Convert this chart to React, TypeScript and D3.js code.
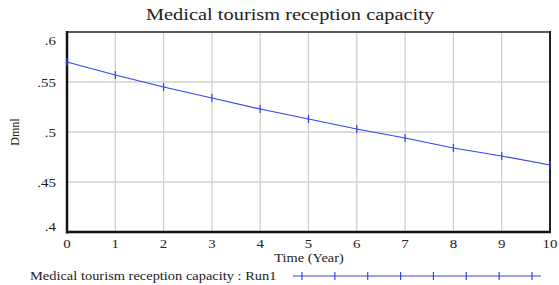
import React from "react";
import * as d3 from "d3";

const years = [0, 1, 2, 3, 4, 5, 6, 7, 8, 9, 10];
const capacity = [0.57, 0.557, 0.545, 0.534, 0.523, 0.513, 0.503, 0.494, 0.484, 0.476, 0.467];
const yTicks = [0.4, 0.45, 0.5, 0.55, 0.6];
const yTickLabels = [".4", ".45", ".5", ".55", ".6"];
const legendMarks = [0, 1, 2, 3, 4, 5, 6, 7];

const W = 559;
const H = 285;
const font = "'Liberation Serif', 'Times New Roman', serif";
const blue = "#3344ee";

// the reference text looks a bit stretched sideways, so each label gets a horizontal scale
const Label = ({ x, y, sx = 1.18, size, anchor = "start", dy, children }: any) => (
	<g transform={`translate(${x},${y}) scale(${sx},1)`}>
		<text textAnchor={anchor} fontSize={size} dy={dy} fill="#222">
			{children}
		</text>
	</g>
);

const App = () => {
	const x = d3.scaleLinear().domain([0, 10]).range([67, 550]);
	const y = d3.scaleLinear().domain([0.4, 0.6]).range([232, 32]);

	const line = d3
		.line<number>()
		.x((_, i) => x(years[i]))
		.y((d) => y(d));

	const legendX = d3.scaleLinear().domain([0, 7]).range([302, 532]);

	return (
		<svg
			width={W}
			height={H}
			style={{ position: "absolute", left: 0, top: 0, background: "#fff" }}
			fontFamily={font}>
			{/* title */}
			<Label x={290} y={20} sx={1.2} size={17} anchor="middle">
				Medical tourism reception capacity
			</Label>

			{/* grid */}
			{years.map((t) => (
				<line key={"gx" + t} x1={x(t)} x2={x(t)} y1={y(0.6)} y2={y(0.4)} stroke="#cfcfcf" strokeWidth={1.3} />
			))}
			{yTicks.map((v) => (
				<line key={"gy" + v} x1={x(0)} x2={x(10)} y1={y(v)} y2={y(v)} stroke="#cfcfcf" strokeWidth={1.3} />
			))}

			{/* frame */}
			<rect x={x(0)} y={y(0.6)} width={x(10) - x(0)} height={y(0.4) - y(0.6)} fill="none" stroke="#333" strokeWidth={1.5} />
			<line x1={x(0)} x2={x(0)} y1={y(0.6) - 1} y2={y(0.4) + 1.5} stroke="#111" strokeWidth={2.5} />
			<line x1={x(0) - 1} x2={x(10) + 1} y1={y(0.4)} y2={y(0.4)} stroke="#111" strokeWidth={2.5} />
			<line x1={x(10)} x2={x(10)} y1={y(0.6) - 1} y2={y(0.4) + 1} stroke="#222" strokeWidth={2} />

			{/* y tick labels */}
			{yTicks.map((v, i) => {
				let dy = 0;
				if (i === 0) dy = -6;
				if (i === yTicks.length - 1) dy = 8;
				return (
					<Label key={"yl" + v} x={56} y={y(v) + dy} sx={1.15} size={13} anchor="end" dy="0.35em">
						{yTickLabels[i]}
					</Label>
				);
			})}

			{/* x tick labels */}
			{years.map((t) => (
				<Label key={"xl" + t} x={x(t)} y={243} sx={1.15} size={13} anchor="middle" dy="0.35em">
					{t}
				</Label>
			))}

			{/* axis titles */}
			<Label x={309} y={262} sx={1.2} size={12} anchor="middle">
				Time (Year)
			</Label>
			<text transform={`translate(19,${132}) rotate(-90)`} textAnchor="middle" fontSize={12} fill="#222">
				Dmnl
			</text>

			{/* series */}
			<path d={line(capacity) || ""} fill="none" stroke={blue} strokeWidth={1.2} />
			{capacity.map((v, i) => (
				<line key={"m" + i} x1={x(years[i])} x2={x(years[i])} y1={y(v) - 4} y2={y(v) + 4} stroke={blue} strokeWidth={1.2} />
			))}

			{/* legend */}
			<Label x={30} y={280} sx={1.155} size={12.5}>
				Medical tourism reception capacity : Run1
			</Label>
			<line x1={293} x2={541} y1={276} y2={276} stroke={blue} strokeWidth={1.2} />
			{legendMarks.map((k) => (
				<line key={"lm" + k} x1={legendX(k)} x2={legendX(k)} y1={272} y2={280} stroke={blue} strokeWidth={1.2} />
			))}
		</svg>
	);
};

export default App;
